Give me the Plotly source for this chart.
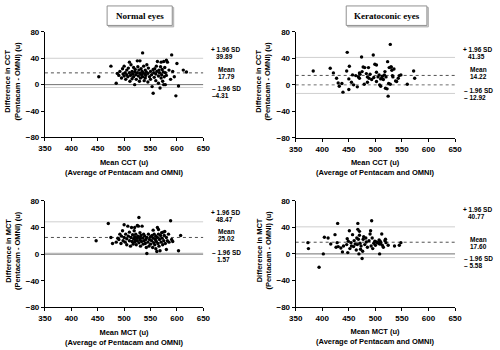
import plotly.graph_objects as go

# ---------------- data ----------------
normal_cct = [(452,12),(475,28),(485,2),(487,17),(490,14),(492,20),(495,10),(497,24),(498,16),(500,28),(500,13),(502,18),(503,8),(505,22),(505,15),(507,12),(508,25),(510,34),(510,18),(511,5),(512,14),(513,30),(515,20),(515,9),(516,16),(518,26),(518,12),(520,0),(520,19),(521,23),(522,15),(523,8),(525,36),(525,18),(526,27),(527,13),(528,22),(529,5),(530,36),(530,17),(531,10),(532,24),(533,15),(534,20),(535,48),(535,12),(536,18),(537,28),(538,6),(539,16),(540,22),(540,10),(541,14),(542,19),(543,30),(545,17),(545,4),(546,25),(548,12),(550,20),(550,8),(552,15),(553,-3),(555,-13),(555,23),(556,18),(557,11),(558,24),(560,16),(560,6),(561,28),(562,20),(563,35),(565,13),(565,2),(566,22),(567,18),(568,-5),(569,27),(570,34),(570,10),(571,15),(572,23),(573,5),(574,19),(575,35),(575,0),(576,12),(577,26),(578,0),(578,18),(580,37),(580,14),(582,34),(585,22),(588,8),(590,45),(592,20),(595,12),(598,-17),(600,32),(603,-2),(612,22),(618,19)]

kerato_cct = [(383,21),(415,25),(421,18),(427,10),(430,3),(432,-2),(437,2),(439,-11),(447,49),(446,21),(451,28),(450,9),(450,-7),(455,4),(457,15),(459,0),(463,14),(466,-3),(470,10),(471,16),(474,42),(477,27),(480,26),(479,1),(483,17),(485,12),(487,26),(488,10),(490,16),(493,8),(496,45),(499,31),(502,30),(502,19),(502,5),(505,12),(507,15),(508,0),(510,-2),(512,10),(513,13),(515,8),(517,15),(519,-5),(520,12),(522,-6),(523,35),(525,2),(526,26),(528,61),(528,1),(529,27),(530,27),(531,22),(532,14),(524,-17),(533,12),(535,24),(538,6),(540,5),(543,10),(545,14),(548,15),(560,1),(572,21),(574,10),(468,12),(475,20),(485,4),(497,11),(510,9),(518,20),(470,18)]

normal_mct = [(447,20),(470,46),(475,25),(478,16),(485,18),(488,24),(490,22),(492,30),(494,16),(495,27),(497,35),(498,20),(500,25),(500,44),(502,18),(503,30),(505,23),(505,14),(507,42),(508,27),(510,20),(510,33),(512,12),(513,25),(514,40),(515,19),(516,29),(517,15),(518,23),(519,35),(520,26),(520,18),(521,21),(522,30),(523,14),(524,24),(525,43),(525,20),(526,27),(527,42),(528,55),(528,17),(529,25),(530,32),(530,22),(531,12),(532,28),(533,19),(534,42),(535,24),(536,15),(537,30),(538,20),(539,27),(540,16),(541,22),(542,10),(543,1),(543,25),(545,18),(546,30),(547,12),(548,22),(550,26),(550,15),(552,20),(553,28),(554,10),(555,24),(556,17),(557,30),(558,14),(559,22),(560,27),(560,8),(561,19),(562,4),(563,25),(563,40),(564,16),(565,30),(566,12),(567,22),(568,5),(569,28),(570,18),(571,32),(572,24),(573,14),(574,33),(575,20),(576,28),(577,34),(578,16),(580,7),(580,25),(582,20),(584,30),(585,18),(588,50),(590,22),(592,19),(603,5),(607,28),(555,36),(565,37),(520,40)]

kerato_mct = [(373,17),(374,8),(394,-20),(402,0),(404,25),(411,24),(416,15),(424,29),(426,10),(429,46),(428,17),(430,11),(435,9),(438,3),(440,12),(446,14),(447,23),(448,2),(449,19),(451,35),(452,8),(454,17),(455,12),(457,29),(459,11),(460,20),(462,15),(464,6),(465,24),(466,14),(467,46),(467,37),(468,22),(469,0),(470,28),(471,16),(472,7),(473,12),(475,-7),(476,4),(477,22),(478,26),(480,14),(483,18),(485,10),(488,20),(490,30),(491,35),(492,12),(493,50),(494,24),(495,8),(497,16),(499,19),(500,13),(502,18),(504,17),(506,16),(507,21),(508,0),(508,15),(509,19),(510,17),(512,30),(513,13),(515,10),(518,20),(519,22),(520,17),(524,13),(536,12),(545,13),(548,17),(470,34),(482,24)]

# limits of agreement: (+1.96 SD, mean, -1.96 SD)
limits = [(39.89, 17.79, -4.31), (41.35, 14.22, -12.92), (48.47, 25.02, 1.57), (40.77, 17.60, -5.58)]
limit_labels = [("39.89", "17.79", "\u20134.31"), ("41.35", "14.22", "\u2013 12.92"),
                ("48.47", "25.02", "1.57"), ("40.77", "17.60", "\u2013 5.58")]
titles = ["Normal eyes", "Keratoconic eyes"]
measures = ["CCT", "CCT", "MCT", "MCT"]
x_ticks = [350, 400, 450, 500, 550, 600, 650]
y_ticks = [-80, -40, 0, 40, 80]
y_ticktext = ["\u221280", "\u221240", "0", "40", "80"]
zero_dash = ["solid", "dot", "solid", "solid"]

# ---------------- layout helpers ----------------
W, H = 500, 350
def px(x): return x / W
def py(y): return 1 - y / H

panels = [
    dict(x0=39, x1=202, y0=28.5, y1=137),
    dict(x0=297, x1=461, y0=28.5, y1=137.5),
    dict(x0=39, x1=202, y0=202, y1=311.5),
    dict(x0=297, x1=461, y0=202, y1=311),
]
# label rows (pixel centers): +SD, mean, -SD
label_rows = [(47, 67, 87), (47, 67, 89), (214, 234, 255), (211, 242, 261)]
series = [normal_cct, kerato_cct, normal_mct, kerato_mct]

fig = go.Figure()
annotations = []
shapes = []
FAM = "Liberation Sans, Arial, sans-serif"
font_b = dict(family=FAM, size=7.5, color="black", weight="bold")

def ann(x, y, text, **kw):
    d = dict(x=px(x), y=py(y), xref="paper", yref="paper", text=text, showarrow=False,
             xanchor="center", yanchor="middle", font=font_b)
    d.update(kw)
    annotations.append(d)

for i, (p, pts) in enumerate(zip(panels, series)):
    xa = "x" if i == 0 else f"x{i+1}"
    ya = "y" if i == 0 else f"y{i+1}"
    up, mean, lo = limits[i]
    for val, col, dash in [(up, "#cfcfcf", "solid"), (lo, "#cfcfcf", "solid"),
                           (0, "#707070", zero_dash[i]), (mean, "#505050", "dot")]:
        fig.add_trace(go.Scatter(x=[350, 650], y=[val, val], mode="lines", xaxis=xa, yaxis=ya,
                                 line=dict(color=col, width=1, dash=dash), hoverinfo="skip",
                                 showlegend=False))
    fig.add_trace(go.Scatter(x=[a for a, b in pts], y=[b for a, b in pts], mode="markers",
                             xaxis=xa, yaxis=ya, marker=dict(color="black", size=3.4),
                             showlegend=False))

    axis_common = dict(showline=True, linecolor="black", linewidth=1, ticks="outside",
                       ticklen=3, tickwidth=1, tickcolor="black", showgrid=False, zeroline=False,
                       tickfont=dict(family=FAM, size=8, color="black", weight="bold"))
    xkey = "xaxis" if i == 0 else f"xaxis{i+1}"
    ykey = "yaxis" if i == 0 else f"yaxis{i+1}"
    fig.update_layout(**{
        xkey: dict(domain=[px(p["x0"]), px(p["x1"])], range=[350, 650], tickvals=x_ticks,
                   anchor=ya, fixedrange=True, **axis_common),
        ykey: dict(domain=[py(p["y1"]), py(p["y0"])], range=[-80, 80], tickvals=y_ticks,
                   ticktext=y_ticktext, anchor=xa, fixedrange=True, **axis_common),
    })

    m = measures[i]
    ycen = (p["y0"] + p["y1"]) / 2 - 4
    ann(p["x0"] - 33, ycen, f"Difference in {m}<br>(Pentacam - OMNI) (u)", textangle=-90)
    xcen = (p["x0"] + p["x1"]) / 2
    ann(xcen, p["y1"] + 30.5, f"Mean {m} (u)<br>(Average of Pentacam and OMNI)")

    lx = p["x1"] + 6
    lab_up, lab_mean, lab_lo = limit_labels[i]
    yu, ym, yl = label_rows[i]
    sm = dict(font_b, size=6.5)
    ann(lx, yu, "+ 1.96 SD", xanchor="left", font=sm)
    ann(lx + 5, yu + 7, lab_up, xanchor="left", font=sm)
    ann(lx + 7, ym, "Mean", xanchor="left", font=sm)
    ann(lx + 7, ym + 7, lab_mean, xanchor="left", font=sm)
    ann(lx + 1, yl, "\u2013 1.96 SD", xanchor="left", font=sm)
    ann(lx + (6 if i == 2 else 1), yl + 7, lab_lo, xanchor="left", font=sm)

# title boxes
boxes = [(103, 170, 2, 22), (349, 432, 2, 22)]
for (x0, x1, y0, y1), t in zip(boxes, titles):
    shapes.append(dict(type="rect", xref="paper", yref="paper", x0=px(x0 + 1.5), x1=px(x1 + 1.5),
                       y0=py(y1 + 1.5), y1=py(y0 + 1.5), line=dict(color="#b0b0b0", width=1),
                       fillcolor="#d8d8d8", layer="below"))
    shapes.append(dict(type="rect", xref="paper", yref="paper", x0=px(x0), x1=px(x1),
                       y0=py(y1), y1=py(y0), line=dict(color="#909090", width=1),
                       fillcolor="white", layer="below"))
    ann((x0 + x1) / 2, (y0 + y1) / 2, t,
        font=dict(family="Liberation Serif, Times New Roman, serif", size=9, color="black", weight="bold"))

fig.update_layout(width=W, height=H, margin=dict(l=0, r=0, t=0, b=0),
                  paper_bgcolor="white", plot_bgcolor="white",
                  annotations=annotations, shapes=shapes, showlegend=False)

fig.write_html("out.html")
